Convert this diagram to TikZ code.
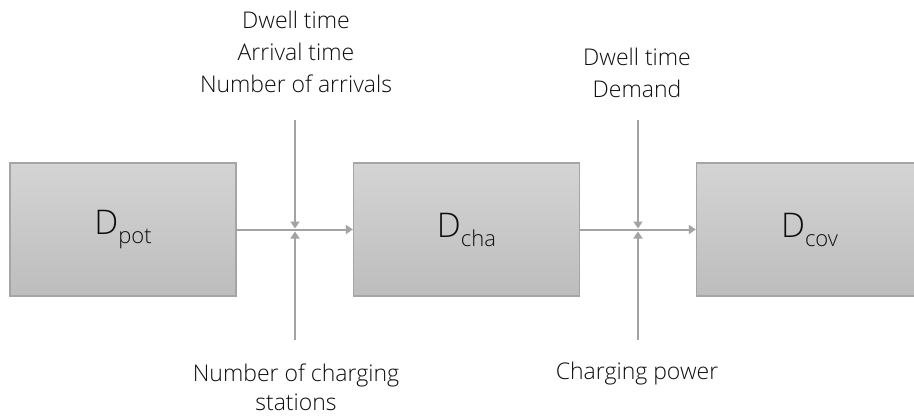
\documentclass[tikz,border=0pt]{standalone}
\usepackage{fontspec}
\setmainfont{Open Sans}[UprightFont=* Light]
\usetikzlibrary{arrows.meta}
\definecolor{boxtop}{HTML}{D4D4D4}
\definecolor{boxbottom}{HTML}{BDBDBD}
\definecolor{boxline}{HTML}{A5A5A5}
\definecolor{flow}{HTML}{A3A3A3}
\definecolor{labeltext}{HTML}{0D0D0D}
\newcommand{\blocklabel}[2]{{\fontsize{34}{40}\selectfont #1}\raisebox{-9pt}{\fontsize{22}{26}\selectfont #2}}
\tikzset{
  block/.style={rectangle, draw=boxline, line width=1.3pt, top color=boxtop,
    bottom color=boxbottom, minimum width=226pt, minimum height=133pt,
    inner sep=0pt, text=labeltext},
  flowline/.style={draw=flow, line width=2pt,
    -{Triangle[length=7pt,width=9pt]}},
  % anchor=base sits on the baseline of the last line
  note/.style={align=center, inner sep=0pt, text=labeltext, anchor=base,
    font=\fontsize{23}{32}\selectfont},
  tightnote/.style={note, font=\fontsize{23}{29}\selectfont}
}
\begin{document}
\begin{tikzpicture}[x=1pt,y=-1pt]
  \clip (0,0) rectangle (914,416);
  \fill[white] (0,0) rectangle (914,416);

  % the three demand blocks
  \node[block] (pot) at (123,229.5) {\blocklabel{D}{pot}};
  \node[block] (cha) at (466.5,229.5) {\blocklabel{D}{cha}};
  \node[block] (cov) at (809.5,229.5) {\blocklabel{D}{cov}};

  % main flow
  \draw[flowline] (pot.east) -- (cha.west);
  \draw[flowline] (cha.east) -- (cov.west);

  % side inputs into the first flow
  \coordinate (in1) at (295,120);
  \coordinate (in1end) at (295,228.5);
  \coordinate (up1) at (295,340);
  \coordinate (up1end) at (295,231.5);
  \draw[flowline] (in1) -- (in1end);
  \draw[flowline] (up1) -- (up1end);

  % side inputs into the second flow
  \coordinate (in2) at (638,120);
  \coordinate (in2end) at (638,228.5);
  \coordinate (up2) at (638,340);
  \coordinate (up2end) at (638,231.5);
  \draw[flowline] (in2) -- (in2end);
  \draw[flowline] (up2) -- (up2end);

  % parameter labels
  \node[note] (p1) at (296,92) {Dwell time\\Arrival time\\Number of arrivals};
  \node[note] (p2) at (637,97) {Dwell time\\Demand};
  \node[tightnote] (q1) at (296,410) {Number of charging\\stations};
  \node[tightnote] (q2) at (637,379) {Charging power};
\end{tikzpicture}
\end{document}
